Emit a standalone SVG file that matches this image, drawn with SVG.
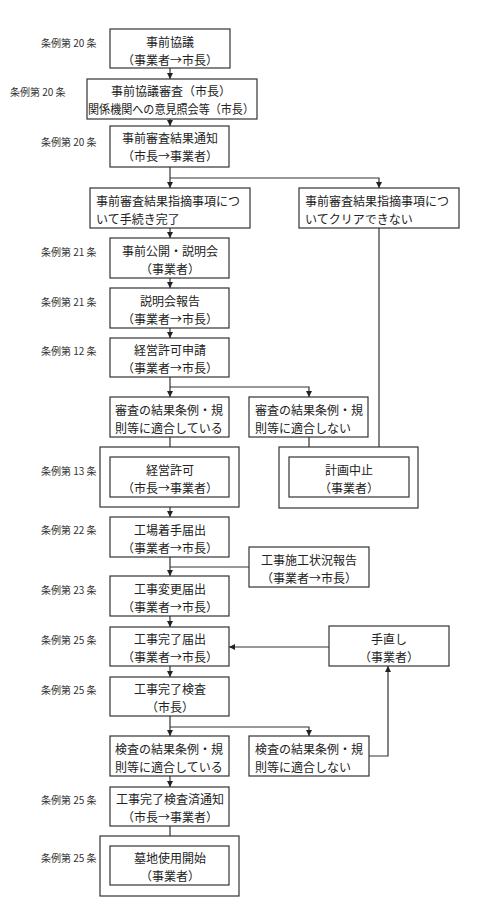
<svg xmlns="http://www.w3.org/2000/svg" width="500" height="907" viewBox="0 0 500 907">
<style>
.bx{fill:#fff;stroke:#333;stroke-width:1.2}
.t{font-family:"Noto Sans CJK JP","Noto Sans CJK SC",sans-serif;font-size:12px;fill:#222}
.c{text-anchor:middle}
.lb{font-family:"Noto Sans CJK JP","Noto Sans CJK SC",sans-serif;font-size:10px;fill:#333}
.ln{fill:none;stroke:#333;stroke-width:1.2}
.ar{marker-end:url(#ah)}
</style>
<defs>
<marker id="ah" viewBox="0 0 8 8" refX="8" refY="4" markerWidth="6" markerHeight="6" markerUnits="userSpaceOnUse" orient="auto"><path d="M0,0 L8,4 L0,8 z" fill="#222"/></marker>
</defs>
<rect width="500" height="907" fill="#fff"/>

<g id="labels">
<text class="lb" x="41" y="47">条例第 20 条</text>
<text class="lb" x="10" y="96">条例第 20 条</text>
<text class="lb" x="41" y="146">条例第 20 条</text>
<text class="lb" x="41" y="256">条例第 21 条</text>
<text class="lb" x="41" y="306">条例第 21 条</text>
<text class="lb" x="41" y="355">条例第 12 条</text>
<text class="lb" x="41" y="475">条例第 13 条</text>
<text class="lb" x="41" y="534">条例第 22 条</text>
<text class="lb" x="41" y="594">条例第 23 条</text>
<text class="lb" x="41" y="644">条例第 25 条</text>
<text class="lb" x="41" y="694">条例第 25 条</text>
<text class="lb" x="41" y="804">条例第 25 条</text>
<text class="lb" x="41" y="862">条例第 25 条</text>
</g>

<g id="connectors">
<path class="ln ar" d="M170,68 V79"/>
<path class="ln ar" d="M170,119 V126"/>
<path class="ln ar" d="M170,167 V188"/>
<path class="ln ar" d="M170,178 H379 V188"/>
<path class="ln ar" d="M170,228 V238"/>
<path class="ln ar" d="M379,228 V457"/>
<path class="ln ar" d="M170,278 V288"/>
<path class="ln ar" d="M170,328 V338"/>
<path class="ln ar" d="M170,377 V397"/>
<path class="ln ar" d="M170,387 H309 V397"/>
<path class="ln ar" d="M170,437 V457"/>
<path class="ln ar" d="M309,437 V457"/>
<path class="ln ar" d="M170,497 V517"/>
<path class="ln ar" d="M170,557 V576"/>
<path class="ln" d="M249,567 H170"/>
<path class="ln ar" d="M170,616 V627"/>
<path class="ln ar" d="M329,647 H229"/>
<path class="ln ar" d="M170,666 V677"/>
<path class="ln ar" d="M170,716 V736"/>
<path class="ln ar" d="M170,727 H309 V736"/>
<path class="ln ar" d="M369,756 H388 V666"/>
<path class="ln ar" d="M170,776 V787"/>
<path class="ln ar" d="M170,826 V846"/>
</g>

<g id="n1"><rect class="bx" x="110" y="29" width="120" height="39"/>
<text class="t c" x="170" y="47">事前協議</text><text class="t c" x="170" y="65">（事業者→市長）</text></g>

<g id="n2"><rect class="bx" x="87" y="79" width="170" height="40"/>
<text class="t c" x="171" y="96">事前協議審査（市長）</text><text class="t c" x="171" y="114" textLength="166" lengthAdjust="spacingAndGlyphs">関係機関への意見照会等（市長）</text></g>

<g id="n3"><rect class="bx" x="110" y="126" width="119" height="41"/>
<text class="t c" x="170" y="143">事前審査結果通知</text><text class="t c" x="170" y="161">（市長→事業者）</text></g>

<g id="n4"><rect class="bx" x="90" y="188" width="160" height="40"/>
<text class="t" x="96" y="206">事前審査結果指摘事項につ</text><text class="t" x="96" y="224">いて手続き完了</text></g>

<g id="n5"><rect class="bx" x="299" y="188" width="160" height="40"/>
<text class="t" x="305" y="206">事前審査結果指摘事項につ</text><text class="t" x="305" y="224">いてクリアできない</text></g>

<g id="n6"><rect class="bx" x="110" y="238" width="119" height="40"/>
<text class="t c" x="170" y="256">事前公開・説明会</text><text class="t c" x="170" y="274">（事業者）</text></g>

<g id="n7"><rect class="bx" x="110" y="288" width="119" height="40"/>
<text class="t c" x="170" y="306">説明会報告</text><text class="t c" x="170" y="324">（事業者→市長）</text></g>

<g id="n8"><rect class="bx" x="110" y="338" width="119" height="39"/>
<text class="t c" x="170" y="355">経営許可申請</text><text class="t c" x="170" y="373">（事業者→市長）</text></g>

<g id="n9"><rect class="bx" x="110" y="397" width="119" height="40"/>
<text class="t" x="115" y="415">審査の結果条例・規</text><text class="t" x="115" y="433">則等に適合している</text></g>

<g id="n10"><rect class="bx" x="249" y="397" width="119" height="40"/>
<text class="t" x="255" y="415">審査の結果条例・規</text><text class="t" x="255" y="433">則等に適合しない</text></g>

<g id="n11"><rect class="bx" x="100" y="447" width="139" height="60"/><rect class="bx" x="110" y="457" width="119" height="40"/>
<text class="t c" x="170" y="475">経営許可</text><text class="t c" x="170" y="493">（市長→事業者）</text></g>

<g id="n12"><rect class="bx" x="279" y="447" width="139" height="61"/><rect class="bx" x="289" y="457" width="120" height="40"/>
<text class="t c" x="349" y="475">計画中止</text><text class="t c" x="349" y="493">（事業者）</text></g>

<g id="n13"><rect class="bx" x="110" y="517" width="119" height="40"/>
<text class="t c" x="170" y="535">工場着手届出</text><text class="t c" x="170" y="553">（事業者→市長）</text></g>

<g id="n14"><rect class="bx" x="249" y="547" width="120" height="40"/>
<text class="t c" x="309" y="565">工事施工状況報告</text><text class="t c" x="309" y="583">（事業者→市長）</text></g>

<g id="n15"><rect class="bx" x="110" y="576" width="119" height="40"/>
<text class="t c" x="170" y="594">工事変更届出</text><text class="t c" x="170" y="612">（事業者→市長）</text></g>

<g id="n16"><rect class="bx" x="110" y="627" width="119" height="39"/>
<text class="t c" x="170" y="644">工事完了届出</text><text class="t c" x="170" y="662">（事業者→市長）</text></g>

<g id="n17"><rect class="bx" x="329" y="626" width="120" height="40"/>
<text class="t c" x="389" y="644">手直し</text><text class="t c" x="389" y="662">（事業者）</text></g>

<g id="n18"><rect class="bx" x="110" y="677" width="119" height="39"/>
<text class="t c" x="170" y="694">工事完了検査</text><text class="t c" x="170" y="712">（市長）</text></g>

<g id="n19"><rect class="bx" x="110" y="736" width="119" height="40"/>
<text class="t" x="115" y="754">検査の結果条例・規</text><text class="t" x="115" y="772">則等に適合している</text></g>

<g id="n20"><rect class="bx" x="249" y="736" width="120" height="40"/>
<text class="t" x="255" y="754">検査の結果条例・規</text><text class="t" x="255" y="772">則等に適合しない</text></g>

<g id="n21"><rect class="bx" x="110" y="787" width="119" height="39"/>
<text class="t c" x="170" y="804">工事完了検査済通知</text><text class="t c" x="170" y="822">（市長→事業者）</text></g>

<g id="n22"><rect class="bx" x="100" y="836" width="139" height="60"/><rect class="bx" x="110" y="846" width="119" height="39"/>
<text class="t c" x="170" y="863">墓地使用開始</text><text class="t c" x="170" y="881">（事業者）</text></g>
</svg>
